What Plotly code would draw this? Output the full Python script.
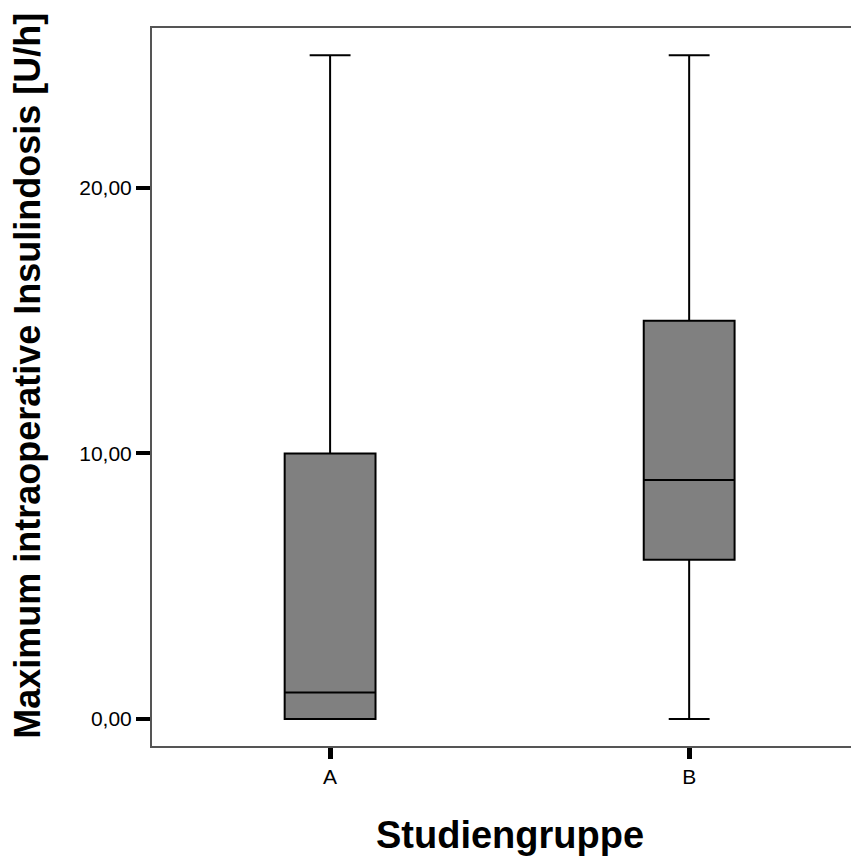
import plotly.graph_objects as go

groups = ["A", "B"]
x_pos = [0, 1]
q1 = [0.0, 6.0]
median = [1.0, 9.0]
q3 = [10.0, 15.0]
lower = [0.0, 0.0]
upper = [25.0, 25.0]
y_ticks = [0, 10, 20]
y_tick_labels = ["0,00", "10,00", "20,00"]

fig = go.Figure()
fig.add_trace(go.Box(
    x=x_pos, q1=q1, median=median, q3=q3,
    lowerfence=lower, upperfence=upper,
    fillcolor="#808080",
    line=dict(color="black", width=2),
    width=0.253, whiskerwidth=0.45,
    boxpoints=False, showlegend=False, hoverinfo="skip",
))

fig.update_layout(
    width=851, height=851,
    margin=dict(l=144, r=0, t=20, b=113),
    plot_bgcolor="white", paper_bgcolor="white",
    font=dict(family="Liberation Sans, Arial, sans-serif", color="black"),
    xaxis=dict(
        range=[-0.496, 1.473], tickvals=x_pos, ticktext=groups,
        showline=True, mirror=True, linecolor="#555555", linewidth=2,
        ticks="outside", ticklen=11, tickwidth=5, tickcolor="black",
        tickfont=dict(size=21), showgrid=False, zeroline=False,
    ),
    yaxis=dict(
        range=[-1.02, 26.03], tickvals=y_ticks, ticktext=y_tick_labels,
        showline=True, mirror=False, linecolor="#555555", linewidth=2,
        ticks="outside", ticklen=14, tickwidth=4, tickcolor="black",
        tickfont=dict(size=21), showgrid=False, zeroline=False,
    ),
    annotations=[
        dict(text="<b>Maximum intraoperative Insulindosis [U/h]</b>",
             xref="paper", yref="paper", x=-0.176, y=0.515,
             xanchor="center", yanchor="middle", textangle=-90,
             showarrow=False, font=dict(size=36)),
        dict(text="<b>Studiengruppe</b>",
             xref="paper", yref="paper", x=0.506, y=-0.124,
             xanchor="center", yanchor="middle",
             showarrow=False, font=dict(size=38)),
    ],
)

fig.write_html("out.html")
